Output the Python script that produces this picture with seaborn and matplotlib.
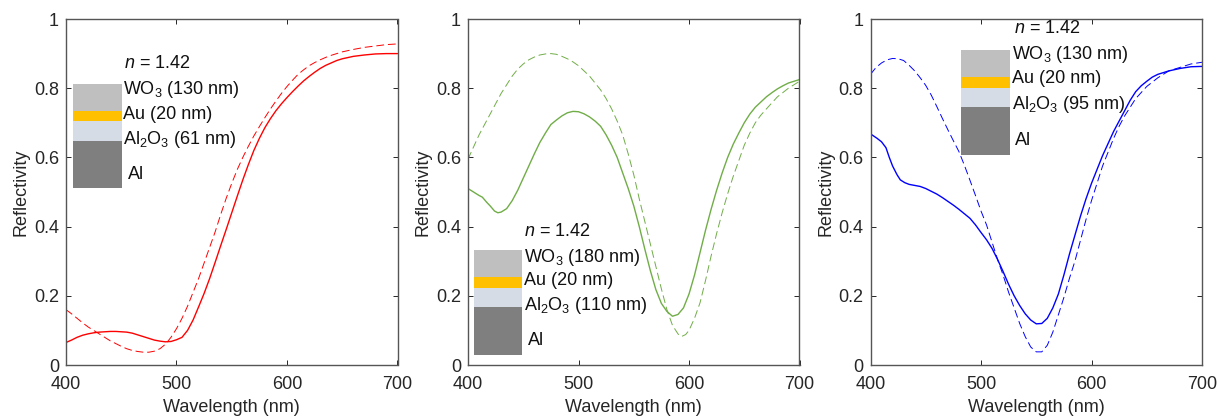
import pandas as pd
import matplotlib
matplotlib.use('Agg')
import matplotlib.pyplot as plt
from matplotlib.patches import Rectangle
import seaborn as sns

sns.set_theme(style='ticks')
plt.rcParams['font.family'] = ['Liberation Sans', 'DejaVu Sans']
plt.rcParams['mathtext.fontset'] = 'custom'
plt.rcParams['mathtext.rm'] = 'Liberation Sans'
plt.rcParams['mathtext.it'] = 'Liberation Sans:italic'
plt.rcParams['mathtext.default'] = 'regular'

# panel 1 (red)
red_solid_x = [400, 405, 410, 415, 420, 425, 430, 435, 440, 445, 450, 455, 460, 465, 470, 475, 480, 485, 490, 495, 500, 505, 510, 515, 520, 525, 530, 535, 540, 545, 550, 555, 560, 565, 570, 575, 580, 585, 590, 595, 600, 605, 610, 615, 620, 625, 630, 635, 640, 645, 650, 660, 670, 680, 690, 700]
red_solid_y = [0.065, 0.072, 0.08, 0.086, 0.09, 0.093, 0.095, 0.096, 0.097, 0.097, 0.096, 0.095, 0.092, 0.087, 0.082, 0.077, 0.072, 0.069, 0.067, 0.068, 0.073, 0.08, 0.10, 0.13, 0.168, 0.207, 0.25, 0.297, 0.345, 0.392, 0.44, 0.488, 0.535, 0.579, 0.62, 0.655, 0.686, 0.712, 0.735, 0.755, 0.773, 0.79, 0.806, 0.821, 0.834, 0.846, 0.857, 0.866, 0.873, 0.88, 0.885, 0.892, 0.896, 0.899, 0.90, 0.90]
red_dash_x = [400, 405, 410, 415, 420, 425, 430, 435, 440, 445, 450, 455, 460, 465, 470, 475, 480, 485, 490, 495, 500, 505, 510, 515, 520, 525, 530, 535, 540, 545, 550, 555, 560, 565, 570, 575, 580, 585, 590, 595, 600, 605, 610, 615, 620, 625, 630, 635, 640, 645, 650, 660, 670, 680, 690, 700]
red_dash_y = [0.16, 0.148, 0.135, 0.122, 0.11, 0.10, 0.09, 0.08, 0.07, 0.062, 0.054, 0.047, 0.042, 0.039, 0.037, 0.037, 0.04, 0.047, 0.06, 0.08, 0.105, 0.135, 0.17, 0.21, 0.25, 0.295, 0.34, 0.385, 0.435, 0.482, 0.525, 0.565, 0.60, 0.632, 0.662, 0.689, 0.715, 0.74, 0.763, 0.785, 0.805, 0.823, 0.84, 0.853, 0.865, 0.874, 0.882, 0.889, 0.895, 0.90, 0.905, 0.912, 0.918, 0.922, 0.926, 0.928]

# panel 2 (green)
green_solid_x = [400, 405, 410, 413, 417, 420, 424, 427, 430, 435, 440, 445, 450, 455, 460, 465, 470, 475, 480, 485, 490, 495, 500, 505, 510, 515, 520, 525, 530, 535, 540, 545, 550, 555, 560, 565, 570, 575, 580, 585, 590, 595, 600, 605, 610, 615, 620, 625, 630, 635, 640, 645, 650, 655, 660, 665, 670, 675, 680, 685, 690, 695, 700]
green_solid_y = [0.51, 0.50, 0.49, 0.485, 0.47, 0.46, 0.445, 0.44, 0.442, 0.452, 0.475, 0.505, 0.54, 0.575, 0.61, 0.643, 0.67, 0.695, 0.708, 0.72, 0.729, 0.733, 0.732, 0.726, 0.717, 0.705, 0.69, 0.665, 0.635, 0.60, 0.555, 0.51, 0.46, 0.40, 0.335, 0.273, 0.218, 0.178, 0.155, 0.141, 0.146, 0.165, 0.205, 0.26, 0.325, 0.39, 0.45, 0.505, 0.555, 0.60, 0.638, 0.67, 0.70, 0.725, 0.745, 0.76, 0.775, 0.787, 0.798, 0.807, 0.815, 0.82, 0.825]
green_dash_x = [400, 405, 410, 415, 420, 425, 430, 435, 440, 445, 450, 455, 460, 465, 470, 475, 480, 485, 490, 495, 500, 505, 510, 515, 520, 525, 530, 535, 540, 545, 550, 555, 560, 565, 570, 575, 580, 585, 590, 593, 597, 600, 605, 610, 615, 620, 625, 630, 635, 640, 645, 650, 655, 660, 665, 670, 680, 690, 700]
green_dash_y = [0.595, 0.63, 0.665, 0.695, 0.725, 0.755, 0.785, 0.81, 0.835, 0.855, 0.87, 0.882, 0.89, 0.896, 0.899, 0.90, 0.898, 0.892, 0.885, 0.876, 0.865, 0.85, 0.835, 0.815, 0.795, 0.77, 0.74, 0.705, 0.665, 0.61, 0.55, 0.48, 0.415, 0.35, 0.285, 0.22, 0.16, 0.115, 0.09, 0.082, 0.088, 0.10, 0.135, 0.18, 0.245, 0.315, 0.38, 0.44, 0.495, 0.545, 0.59, 0.635, 0.67, 0.70, 0.722, 0.74, 0.775, 0.80, 0.82]

# panel 3 (blue)
blue_solid_x = [400, 406, 410, 414, 417, 420, 424, 427, 431, 435, 440, 445, 450, 455, 460, 465, 470, 475, 480, 485, 490, 495, 500, 505, 510, 515, 520, 525, 530, 535, 540, 545, 550, 555, 560, 565, 570, 575, 580, 585, 590, 595, 600, 605, 610, 615, 620, 625, 630, 635, 640, 645, 650, 655, 660, 665, 670, 680, 690, 700]
blue_solid_y = [0.668, 0.655, 0.645, 0.628, 0.60, 0.575, 0.55, 0.535, 0.527, 0.522, 0.519, 0.516, 0.51, 0.502, 0.494, 0.484, 0.473, 0.462, 0.45, 0.437, 0.424, 0.405, 0.383, 0.362, 0.337, 0.305, 0.27, 0.233, 0.20, 0.172, 0.148, 0.13, 0.119, 0.12, 0.135, 0.165, 0.205, 0.26, 0.32, 0.375, 0.43, 0.48, 0.525, 0.565, 0.605, 0.64, 0.675, 0.705, 0.735, 0.765, 0.79, 0.807, 0.82, 0.832, 0.84, 0.845, 0.85, 0.857, 0.862, 0.863]
blue_dash_x = [400, 405, 410, 415, 420, 425, 430, 435, 440, 445, 450, 455, 460, 465, 470, 475, 480, 485, 490, 495, 500, 505, 510, 515, 520, 525, 530, 535, 540, 545, 550, 555, 560, 565, 570, 575, 580, 585, 590, 595, 600, 605, 610, 615, 620, 625, 630, 635, 640, 650, 660, 670, 680, 690, 700]
blue_dash_y = [0.84, 0.86, 0.873, 0.882, 0.886, 0.885, 0.88, 0.866, 0.85, 0.83, 0.808, 0.78, 0.747, 0.713, 0.68, 0.648, 0.617, 0.577, 0.534, 0.49, 0.445, 0.405, 0.355, 0.305, 0.26, 0.21, 0.165, 0.12, 0.082, 0.052, 0.038, 0.038, 0.057, 0.095, 0.145, 0.195, 0.25, 0.30, 0.36, 0.42, 0.475, 0.525, 0.575, 0.615, 0.655, 0.69, 0.72, 0.745, 0.77, 0.805, 0.83, 0.85, 0.86, 0.87, 0.875]

stack_colors = ['#bfbfbf', '#ffc000', '#d6dce5', '#7f7f7f']

panels = [
    dict(left=66, color='#ff0000', solid=(red_solid_x, red_solid_y), dash=(red_dash_x, red_dash_y),
         box_x=(406, 451), edges=[0.812, 0.734, 0.705, 0.647, 0.512],
         labels=['WO$_3$ (130 nm)', 'Au (20 nm)', 'Al$_2$O$_3$ (61 nm)'],
         text_x=452, n_x=452.5, n_y=0.871, label_y=[0.795, 0.725, 0.653], al_x=456, al_y=0.55),
    dict(left=468, color='#70ad47', solid=(green_solid_x, green_solid_y), dash=(green_dash_x, green_dash_y),
         box_x=(405.4, 449), edges=[0.332, 0.254, 0.223, 0.168, 0.029],
         labels=['WO$_3$ (180 nm)', 'Au (20 nm)', 'Al$_2$O$_3$ (110 nm)'],
         text_x=451, n_x=451, n_y=0.387, label_y=[0.312, 0.2435, 0.172], al_x=454, al_y=0.07),
    dict(left=870.5, color='#0000ff', solid=(blue_solid_x, blue_solid_y), dash=(blue_dash_x, blue_dash_y),
         box_x=(482, 526.3), edges=[0.91, 0.832, 0.80, 0.746, 0.607],
         labels=['WO$_3$ (130 nm)', 'Au (20 nm)', 'Al$_2$O$_3$ (95 nm)'],
         text_x=528, n_x=530, n_y=0.972, label_y=[0.897, 0.827, 0.752], al_x=531, al_y=0.65),
]

fig = plt.figure(figsize=(12.19, 4.16), dpi=100)

for p in panels:
    ax = fig.add_axes([p['left'] / 1219, (416 - 365) / 416, 331.5 / 1219, 346 / 416])
    solid = pd.DataFrame({'wl': p['solid'][0], 'r': p['solid'][1]})
    dash = pd.DataFrame({'wl': p['dash'][0], 'r': p['dash'][1]})
    sns.lineplot(data=solid, x='wl', y='r', color=p['color'], lw=1.0, estimator=None, ax=ax)
    sns.lineplot(data=dash, x='wl', y='r', color=p['color'], lw=0.7, estimator=None, ax=ax,
                 linestyle=(0, (8, 4)))

    # layer stack sketch
    x0, x1 = p['box_x']
    for i, c in enumerate(stack_colors):
        ax.add_patch(Rectangle((x0, p['edges'][i + 1]), x1 - x0, p['edges'][i] - p['edges'][i + 1],
                               facecolor=c, edgecolor='none', zorder=3))
    ax.text(p['n_x'], p['n_y'], '$\\mathit{n}$ = 1.42', fontsize=13, color='#111111', va='center', zorder=4)
    for lab, y in zip(p['labels'], p['label_y']):
        ax.text(p['text_x'], y, lab, fontsize=13, color='#111111', va='center', zorder=4)
    ax.text(p['al_x'], p['al_y'], 'Al', fontsize=13, color='#111111', va='center', zorder=4)

    ax.set_xlim(400, 700)
    ax.set_ylim(0, 1)
    ax.set_xticks([400, 500, 600, 700])
    ax.set_yticks([0, 0.2, 0.4, 0.6, 0.8, 1])
    ax.set_yticklabels(['0', '0.2', '0.4', '0.6', '0.8', '1'])
    ax.tick_params(direction='in', top=True, right=True, length=3.5, width=0.7, color='#262626',
                   labelsize=13, labelcolor='#262626')
    ax.tick_params(axis='x', pad=8)
    ax.tick_params(axis='y', pad=5)
    ax.set_xlabel('Wavelength (nm)', fontsize=13, color='#262626', labelpad=4)
    ax.set_ylabel('Reflectivity', fontsize=13, color='#262626', labelpad=3)
    for s in ax.spines.values():
        s.set_color('#555555')
        s.set_linewidth(1.0)

fig.savefig('out.png', dpi=100)
